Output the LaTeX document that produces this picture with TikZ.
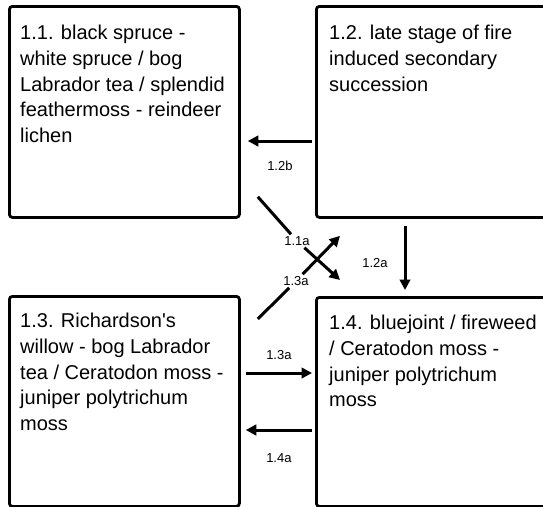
\documentclass[tikz,border=0pt]{standalone}
\usepackage{fontspec}
\setmainfont{Liberation Sans}[Ligatures=TeXOff]
\usepackage{tikz}
\usetikzlibrary{
    calc,
    positioning,
    arrows.meta
}

\begin{document}
\begin{tikzpicture}[
    x=1pt, y=-1pt,
    box/.style={
    	draw,
    	line width=2.8pt,
    	rounded corners=3pt,
    	anchor=north west,
    	inner sep=0pt
    },
    boxtext/.style={
        anchor=north west,
        align=left,
        inner sep=0pt,
        font=\fontsize{20pt}{25.7pt}\selectfont
    },
    lbl/.style={
        inner sep=2pt,
        font=\fontsize{13pt}{15pt}\selectfont
    },
    conn/.style={
        line width=3pt
    },
    arr/.style={
        conn,
        -{Triangle[length=10.5pt,width=10.5pt]}
    }]

    \useasboundingbox (0,0) rectangle (543,506);
    \clip (0,0) rectangle (543,506);

    % states
    \node[box, minimum width=230pt, minimum height=211pt] (b11) at (8,5) {};
    \node[box, minimum width=250pt, minimum height=211pt] (b12) at (315,5) {};
    \node[box, minimum width=230pt, minimum height=210pt] (b13) at (8,295) {};
    \node[box, minimum width=250pt, minimum height=209pt] (b14) at (315,296) {};

    \node[boxtext, below right=20pt and 12pt of b11.north west] (t11)
        {1.1. black spruce -\\white spruce / bog\\Labrador tea / splendid\\feathermoss - reindeer\\lichen};
    \node[boxtext, below right=20pt and 14pt of b12.north west] (t12)
        {1.2. late stage of fire\\induced secondary\\succession};
    \node[boxtext, below right=18pt and 12pt of b13.north west] (t13)
        {1.3. Richardson's\\willow - bog Labrador\\tea / Ceratodon moss -\\juniper polytrichum\\moss};
    \node[boxtext, below right=19pt and 14pt of b14.north west] (t14)
        {1.4. bluejoint / fireweed\\/ Ceratodon moss -\\juniper polytrichum\\moss};

    % end points of the transitions
    \coordinate (s12b) at ($(b12.north west)+(-3,136)$);
    \coordinate (e12b) at ($(b11.north east)+(7,136)$);
    \coordinate (s12a) at ($(b12.south west)+(90,7)$);
    \coordinate (e12a) at ($(b14.north west)+(90,-6)$);
    \coordinate (s13a) at ($(b13.north east)+(5,78)$);
    \coordinate (e13a) at ($(b14.north west)+(-3,77)$);
    \coordinate (s14a) at ($(b14.north west)+(-3,134)$);
    \coordinate (e14a) at ($(b13.north east)+(5,135)$);
    \coordinate (s11a) at ($(b11.south east)+(17,-22)$);
    \coordinate (e11a) at ($(b14.north west)+(25,-16)$);
    \coordinate (s13b) at ($(b13.north east)+(17,24)$);
    \coordinate (e13b) at ($(b12.south west)+(25,17)$);

    \draw[arr] (s12b) -- node[lbl, midway, yshift=-25pt] (l12b) {1.2b} (e12b);
    \draw[arr] (s12a) -- node[lbl, midway, xshift=-30pt, yshift=-5pt] (l12a) {1.2a} (e12a);
    \draw[arr] (s13a) -- node[lbl, midway, yshift=18pt] (l13a) {1.3a} (e13a);
    \draw[arr] (s14a) -- node[lbl, midway, yshift=-28pt] (l14a) {1.4a} (e14a);

    % crossing transitions
    \node[lbl] (l11a) at (297,241) {1.1a};
    \node[lbl] (l13b) at (296,281) {1.3a};
    \draw[conn] (s11a) -- (l11a);
    \draw[arr] (l11a) -- (e11a);
    \draw[conn] (s13b) -- (l13b);
    \draw[arr] (l13b) -- (e13b);

\end{tikzpicture}
\end{document}
